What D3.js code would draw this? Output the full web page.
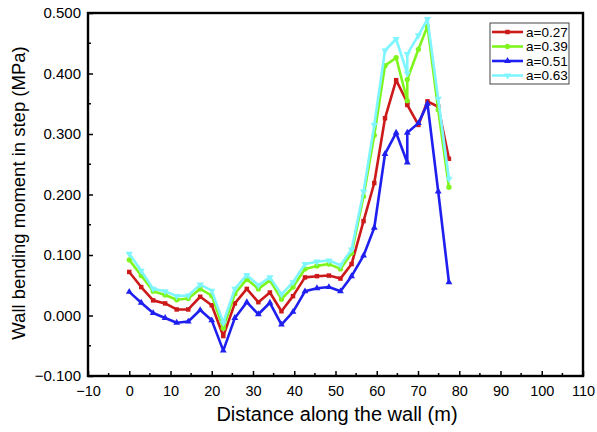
<!DOCTYPE html>
<html>
<head>
<meta charset="utf-8">
<script src="https://cdn.jsdelivr.net/npm/d3@7"></script>
<style>
  body { margin: 0; background: #fff; }
  text { font-family: "Liberation Sans", Arial, sans-serif; }
</style>
</head>
<body>
<div id="chart"></div>
<script>
// data
var distance = [0, 2.9, 5.8, 8.7, 11.5, 14.3, 17.2, 20.0, 22.8, 25.6, 28.5, 31.3, 34.1, 36.9, 39.7,
  42.6, 45.5, 48.4, 51.2, 53.9, 56.8, 59.4, 62.0, 64.7, 67.4, 67.4, 70.1, 72.3, 74.9, 77.5];

var a027 = [0.072, 0.047, 0.025, 0.020, 0.010, 0.010, 0.031, 0.017, -0.034, 0.020, 0.044, 0.022, 0.038, 0.007, 0.032,
  0.063, 0.065, 0.066, 0.061, 0.085, 0.156, 0.219, 0.326, 0.389, 0.352, 0.348, 0.315, 0.354, 0.345, 0.259];
var a039 = [0.092, 0.066, 0.040, 0.034, 0.026, 0.028, 0.044, 0.033, -0.021, 0.036, 0.060, 0.044, 0.058, 0.027, 0.047,
  0.077, 0.082, 0.085, 0.077, 0.103, 0.197, 0.298, 0.413, 0.426, 0.355, 0.390, 0.440, 0.478, 0.340, 0.212];
var a051 = [0.039, 0.021, 0.004, -0.004, -0.012, -0.010, 0.009, -0.008, -0.058, -0.004, 0.022, 0.002, 0.021, -0.015, 0.006,
  0.040, 0.045, 0.047, 0.040, 0.065, 0.099, 0.145, 0.267, 0.302, 0.253, 0.302, 0.318, 0.350, 0.205, 0.055];
var a063 = [0.102, 0.074, 0.044, 0.040, 0.032, 0.033, 0.051, 0.041, -0.012, 0.044, 0.067, 0.050, 0.063, 0.035, 0.055,
  0.085, 0.089, 0.091, 0.083, 0.109, 0.205, 0.315, 0.438, 0.457, 0.400, 0.432, 0.463, 0.490, 0.358, 0.226];

var seriesNames = ["a=0.27", "a=0.39", "a=0.51", "a=0.63"];
var seriesColors = ["#cc1a1a", "#7ff51e", "#1f1ff0", "#7ff5ff"];
var seriesSymbols = [d3.symbolSquare, d3.symbolCircle, d3.symbolTriangle, "down"];
var xTicks = [-10, 0, 10, 20, 30, 40, 50, 60, 70, 80, 90, 100, 110];
var yTicks = [-0.1, 0, 0.1, 0.2, 0.3, 0.4, 0.5];

var allSeries = [a027, a039, a051, a063];

//define SVG size
var svgWidth = 597;
var svgHeight = 432;

var margin = { top: 13, right: 14, bottom: 56, left: 88 };
var width = svgWidth - margin.left - margin.right;
var height = svgHeight - margin.top - margin.bottom;

var svg = d3.select("#chart")
  .append("svg")
  .attr("width", svgWidth)
  .attr("height", svgHeight);

var chartGroup = svg.append("g")
  .attr("transform", `translate(${margin.left}, ${margin.top})`);

var xScale = d3.scaleLinear().domain([-10, 110]).range([0, width]);
var yScale = d3.scaleLinear().domain([-0.1, 0.5]).range([height, 0]);

// minor ticks (inward)
var xMinor = d3.range(-5, 110, 10);
var yMinor = d3.range(-0.05, 0.5, 0.1);

chartGroup.selectAll("line.xminor")
  .data(xMinor).enter().append("line")
  .attr("x1", d => xScale(d)).attr("x2", d => xScale(d))
  .attr("y1", height).attr("y2", height - 3)
  .attr("stroke", "#000").attr("stroke-width", 1.5);

chartGroup.selectAll("line.yminor")
  .data(yMinor).enter().append("line")
  .attr("x1", 0).attr("x2", 3)
  .attr("y1", d => yScale(d)).attr("y2", d => yScale(d))
  .attr("stroke", "#000").attr("stroke-width", 1.5);

// axes with inward major ticks
var bottomAxis = d3.axisBottom(xScale).tickValues(xTicks).tickSizeInner(-5).tickSizeOuter(0)
  .tickFormat(d3.format("d"));
var leftAxis = d3.axisLeft(yScale).tickValues(yTicks).tickSizeInner(-5).tickSizeOuter(0)
  .tickFormat(d3.format(".3f"));

var xAxis = chartGroup.append("g")
  .attr("transform", `translate(0, ${height})`)
  .call(bottomAxis);
xAxis.select(".domain").remove();
xAxis.selectAll("line").attr("stroke-width", 1.5);
xAxis.selectAll("text")
  .attr("y", 10)
  .attr("font-size", 14.5)
  .attr("font-family", "Liberation Sans, Arial, sans-serif")
  .attr("fill", "#000");

var yAxis = chartGroup.append("g").call(leftAxis);
yAxis.select(".domain").remove();
yAxis.selectAll("line").attr("stroke-width", 1.5);
yAxis.selectAll("text")
  .attr("x", -7)
  .attr("font-size", 15)
  .attr("font-family", "Liberation Sans, Arial, sans-serif")
  .attr("fill", "#000");

// frame
chartGroup.append("rect")
  .attr("x", 0).attr("y", 0)
  .attr("width", width).attr("height", height)
  .attr("fill", "none")
  .attr("stroke", "#000")
  .attr("stroke-width", 2.4);

// lines + markers
var line = d3.line()
  .x((d, i) => xScale(distance[i]))
  .y(d => yScale(d));

function markerPath(sym) {
  if (sym === "down") {
    return d3.symbol().type(d3.symbolTriangle).size(22)();
  }
  return d3.symbol().type(sym).size(sym === d3.symbolCircle ? 22 : 20)();
}

allSeries.forEach(function(vals, k) {
  var g = chartGroup.append("g");
  g.append("path")
    .datum(vals)
    .attr("d", line)
    .attr("fill", "none")
    .attr("stroke", seriesColors[k])
    .attr("stroke-width", 2.6)
    .attr("stroke-linejoin", "round");
  g.selectAll("path.mk")
    .data(vals).enter().append("path")
    .attr("d", markerPath(seriesSymbols[k]))
    .attr("transform", (d, i) => `translate(${xScale(distance[i])}, ${yScale(d)})` +
      (seriesSymbols[k] === "down" ? " rotate(180)" : ""))
    .attr("fill", seriesColors[k]);
});

// legend
var legend = svg.append("g").attr("transform", "translate(490, 23)");
legend.append("rect")
  .attr("width", 79).attr("height", 61)
  .attr("fill", "#fff")
  .attr("stroke", "#444")
  .attr("stroke-width", 1);

seriesNames.forEach(function(name, k) {
  var yy = 9 + k * 14.5;
  legend.append("line")
    .attr("x1", 2).attr("x2", 33)
    .attr("y1", yy).attr("y2", yy)
    .attr("stroke", seriesColors[k]).attr("stroke-width", 2.6);
  legend.append("path")
    .attr("d", markerPath(seriesSymbols[k]))
    .attr("transform", `translate(17.5, ${yy})` + (seriesSymbols[k] === "down" ? " rotate(180)" : ""))
    .attr("fill", seriesColors[k]);
  legend.append("text")
    .attr("x", 36).attr("y", yy)
    .attr("dy", "0.35em")
    .attr("font-size", 13.5)
    .attr("fill", "#000")
    .text(name);
});

// axis titles
svg.append("text")
  .attr("x", 337)
  .attr("y", 421)
  .attr("text-anchor", "middle")
  .attr("font-size", 20)
  .attr("fill", "#000")
  .text("Distance along the wall (m)");

svg.append("text")
  .attr("transform", `translate(25, 193) rotate(-90)`)
  .attr("text-anchor", "middle")
  .attr("font-size", 18.5)
  .attr("fill", "#000")
  .text("Wall bending moment in step (MPa)");
</script>
</body>
</html>
